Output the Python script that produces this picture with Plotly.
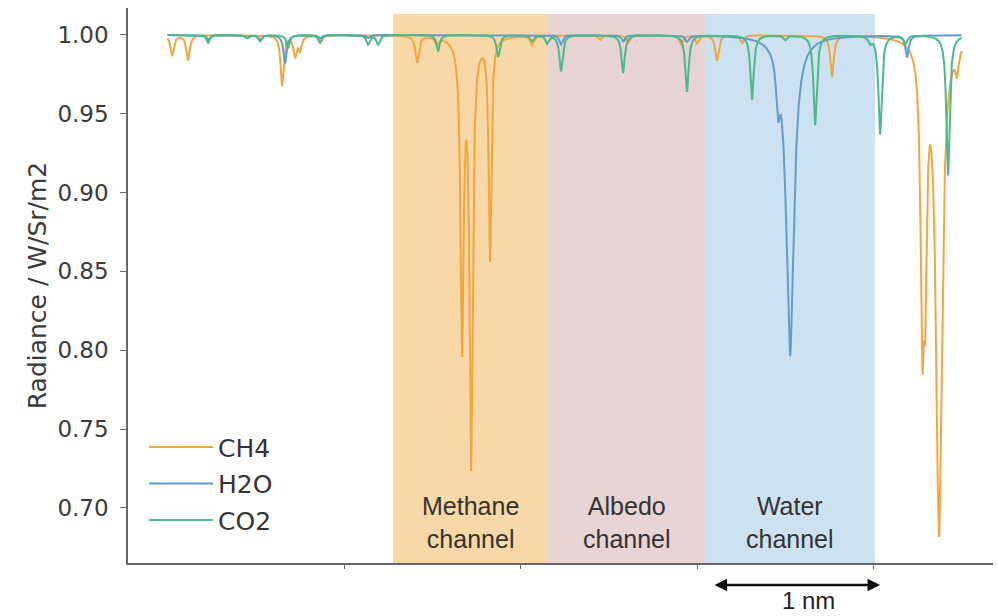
import numpy as np
import plotly.graph_objects as go

# Absorption line lists (position in nm relative to the window start, line depth, Lorentz half-width in nm)
ch4_center = [0.026, 0.116, 0.649, 0.722, 0.751, 0.864, 1.414, 1.525, 1.669, 1.720, 1.827,
              2.065, 2.450, 2.609, 2.910, 3.000, 3.113, 3.255, 3.765, 4.276, 4.293, 4.371, 4.473]
ch4_depth = [0.013, 0.016, 0.032, 0.013, 0.009, 0.003, 0.017, 0.004, 0.195, 0.270, 0.141,
             0.006, 0.003, 0.005, 0.006, 0.005, 0.016, 0.005, 0.026, 0.170, 0.135, 0.315, 0.015]
ch4_width = [0.011, 0.011, 0.010, 0.011, 0.011, 0.011, 0.011, 0.011, 0.0105, 0.0105, 0.009,
             0.011, 0.011, 0.011, 0.011, 0.011, 0.011, 0.011, 0.011, 0.011, 0.011, 0.020, 0.011]

h2o_center = [0.230, 0.450, 0.524, 0.666, 0.864, 1.136, 2.229, 2.581, 2.943, 3.459, 3.527, 4.190]
h2o_depth = [0.003, 0.002, 0.003, 0.018, 0.002, 0.002, 0.006, 0.004, 0.004, 0.030, 0.203, 0.014]
h2o_width = [0.011, 0.011, 0.011, 0.011, 0.011, 0.011, 0.011, 0.011, 0.011, 0.012, 0.026, 0.011]

co2_center = [0.230, 0.450, 0.524, 0.683, 0.864, 1.136, 1.193, 1.533, 1.873, 2.065, 2.150, 2.229,
              2.581, 2.943, 3.312, 3.499, 3.669, 3.980, 4.037, 4.180, 4.422]
co2_depth = [0.005, 0.002, 0.004, 0.008, 0.005, 0.006, 0.006, 0.010, 0.014, 0.004, 0.005, 0.023,
             0.024, 0.036, 0.041, 0.003, 0.057, 0.004, 0.063, 0.005, 0.089]
co2_width = [0.011] * len(co2_center)

# Channel windows (nm)
channel_names = ["Methane<br>channel", "Albedo<br>channel", "Water<br>channel"]
channel_start = [1.278, 2.156, 3.045]
channel_end = [2.156, 3.045, 4.009]
channel_fill = ["#f7d8a6", "#e8d4d4", "#cde2f1"]

y_ticks = [0.70, 0.75, 0.80, 0.85, 0.90, 0.95, 1.00]

wl = np.arange(0.0, 4.5 + 1e-9, 0.0005)


def transmission(centers, depths, widths):
    t = np.ones_like(wl)
    for c, d, w in zip(centers, depths, widths):
        t *= 1.0 - d * w ** 2 / ((wl - c) ** 2 + w ** 2)
    return t


series = [
    ("CH4", transmission(ch4_center, ch4_depth, ch4_width), "#f2a63f"),
    ("H2O", transmission(h2o_center, h2o_depth, h2o_width), "#5f9dd0"),
    ("CO2", transmission(co2_center, co2_depth, co2_width), "#4cb98a"),
]

fig = go.Figure()
for name, y, color in series:
    fig.add_trace(go.Scatter(x=wl, y=y, mode="lines", name=name, legendgroup=name,
                             line=dict(color=color, width=2)))

y_lo, y_hi = 0.665, 1.0171
x_lo, x_hi = -0.224, 4.677

for x0, x1, col in zip(channel_start, channel_end, channel_fill):
    fig.add_shape(type="rect", xref="x", yref="y", x0=x0, x1=x1, y0=y_lo, y1=1.0133,
                  fillcolor=col, line=dict(width=0), layer="below")

for name, x0, x1 in zip(channel_names, channel_start, channel_end):
    fig.add_annotation(x=(x0 + x1) / 2, y=0.691, xref="x", yref="y", text=name,
                       showarrow=False,
                       font=dict(family="Liberation Sans", size=25, color="#333333"))

# 1 nm scale arrow below the axis
fig.add_annotation(x=4.037, y=-0.0396, xref="x", yref="paper",
                   ax=3.091, ay=0, axref="x", ayref="pixel",
                   text="", showarrow=True, arrowside="end+start",
                   arrowhead=2, arrowsize=1, arrowwidth=2.5, arrowcolor="#111111")
fig.add_annotation(x=3.63, y=-0.0667, xref="x", yref="paper", yanchor="middle",
                   text="1 nm", showarrow=False,
                   font=dict(family="Liberation Sans", size=24, color="#222222"))

fig.update_layout(
    width=998, height=616,
    margin=dict(l=128, r=5, t=8, b=53),
    plot_bgcolor="white", paper_bgcolor="white",
    showlegend=True,
    legend=dict(x=0.0185, y=0.25, xanchor="left", yanchor="top",
                bgcolor="rgba(0,0,0,0)", itemwidth=64, tracegroupgap=1,
                font=dict(family="DejaVu Sans", size=25, color="#333333")),
    xaxis=dict(range=[x_lo, x_hi], showgrid=False, zeroline=False,
               showline=True, linecolor="#666666", linewidth=1.5,
               ticks="outside", ticklen=4, tickcolor="#666666",
               tickvals=[1, 2, 3, 4], showticklabels=False),
    yaxis=dict(range=[y_lo, y_hi], showgrid=False, zeroline=False,
               showline=True, linecolor="#666666", linewidth=1.5,
               ticks="outside", ticklen=6, tickcolor="#666666",
               tickvals=y_ticks, tickformat=".2f", ticklabelstandoff=7,
               tickfont=dict(family="DejaVu Sans", size=23, color="#3a3a3a"),
               title=dict(text="Radiance / W/Sr/m2", standoff=4,
                          font=dict(family="DejaVu Sans", size=25, color="#3a3a3a"))),
)

fig.write_html("out.html")
